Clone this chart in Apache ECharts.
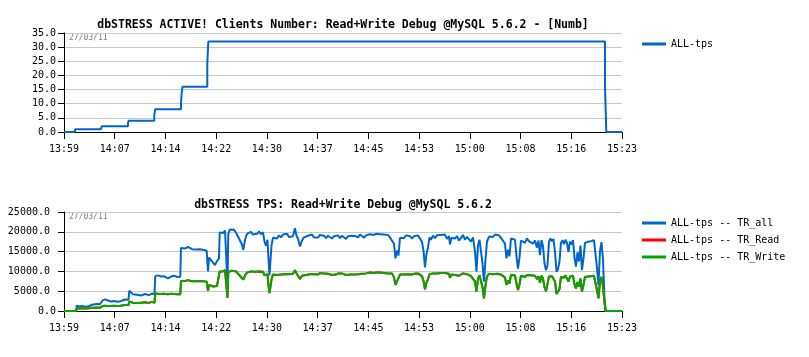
<!DOCTYPE html>
<html>
<head>
<meta charset="utf-8">
<script src="https://cdn.jsdelivr.net/npm/echarts@6/dist/echarts.min.js"></script>
<style>
html,body{margin:0;padding:0;background:#fff;}
#chart{width:809px;height:357px;}
</style>
</head>
<body>
<div id="chart"></div>
<script>
// ---- data ----
const xTickLabels = ['13:59','14:07','14:14','14:22','14:30','14:37','14:45','14:53','15:00','15:08','15:16','15:23'];
const spanMinutes = 84; // minutes covered by the x axis

const topTitle = 'dbSTRESS ACTIVE! Clients Number: Read+Write Debug @MySQL 5.6.2 - [Numb]';
const bottomTitle = 'dbSTRESS TPS: Read+Write Debug @MySQL 5.6.2';
const dateLabel = '27/03/11';

// active clients (minutes from start, value), step line
const clientTime  = [0, 1.66, 5.57, 5.67, 9.63, 9.71, 13.59, 13.72, 17.61, 17.72, 17.84, 21.57, 21.72, 81.44, 81.64, 84];
const clientValue = [0, 1,    1.5,  2,    3,    4,    6,     8,     10,    14,    16,    24,    32,    16,    0,     0];

// TPS (minutes from start)
const tpsTime = [0,1.81,1.91,2.26,2.71,3.16,3.69,3.81,4.37,4.97,5.42,5.83,6.17,6.62,7.07,7.53,7.98,8.50,8.69,9.18,9.71,9.83,10.09,10.39,10.99,11.59,12.19,12.80,13.25,13.62,13.74,14.15,14.60,15.05,15.66,16.11,16.56,17.01,17.51,17.61,17.91,18.29,18.67,19.27,19.87,20.47,21.07,21.48,21.57,21.68,21.83,22.13,22.43,22.73,23.03,23.33,23.44,23.63,23.93,24.24,24.51,24.61,24.73,24.99,25.29,25.59,25.89,26.19,26.49,26.79,26.99,27.25,27.55,27.85,28.15,28.45,28.75,29.05,29.35,29.65,29.96,30.18,30.41,30.63,30.75,30.93,31.08,31.24,31.46,31.76,32.06,32.36,32.67,32.97,33.27,33.57,33.87,34.17,34.47,34.77,35.00,35.22,35.53,35.83,36.13,36.43,36.73,37.03,37.33,37.63,37.93,38.23,38.54,38.84,39.14,39.44,39.74,40.04,40.34,40.64,40.94,41.25,41.55,41.85,42.15,42.45,42.75,43.05,43.35,43.65,43.95,44.26,44.56,44.86,45.16,45.46,45.76,46.06,46.36,46.66,46.97,47.27,47.57,47.87,48.17,48.47,48.77,49.07,49.37,49.67,49.90,50.13,50.35,50.58,50.88,51.18,51.48,51.78,52.08,52.38,52.69,52.99,53.29,53.59,53.89,54.12,54.34,54.57,54.79,55.02,55.24,55.55,55.85,56.15,56.45,56.75,57.05,57.35,57.65,57.95,58.10,58.33,58.56,58.86,59.16,59.46,59.76,60.06,60.36,60.66,60.96,61.27,61.57,61.87,62.09,62.32,62.55,62.77,63.00,63.22,63.45,63.67,63.98,64.28,64.58,64.88,65.18,65.48,65.78,66.08,66.38,66.61,66.84,67.06,67.29,67.59,67.89,68.11,68.34,68.57,68.79,69.09,69.39,69.70,70.00,70.30,70.60,70.90,71.20,71.43,71.65,71.88,72.10,72.33,72.56,72.78,73.01,73.23,73.46,73.68,73.91,74.14,74.36,74.59,74.81,75.04,75.27,75.49,75.72,75.94,76.17,76.39,76.62,76.85,77.07,77.30,77.52,77.75,77.97,78.20,78.43,78.65,78.88,79.10,79.33,79.56,79.78,80.01,80.23,80.46,80.68,80.91,81.14,81.36,81.54,84.00];
const tpsAll = [0,0,1340,1150,1250,1100,1200,1700,1650,1750,1700,2700,2950,2650,2400,2500,2350,2450,2850,2900,2850,5100,4600,4200,4100,3900,4300,4000,4400,4200,8800,9000,8700,8800,8250,8700,8900,8600,8650,15900,15500,15800,16200,15600,15500,15600,15400,15200,12600,10000,13500,13000,12200,11600,12600,13200,19800,20000,19700,20300,19800,6500,19500,20600,20300,20500,19800,18800,17800,16800,15400,18000,19500,19200,20000,19300,19800,19500,20100,19400,19900,17500,16500,18000,14000,9000,8600,16600,18500,19000,18300,19100,18600,19300,18800,19500,18700,19200,18900,20900,19000,18300,16300,17800,18600,18200,19000,18700,19300,18600,19100,18500,19200,18800,19000,18400,19000,18600,18300,18900,18500,19100,18400,19000,18700,18200,18900,18400,19000,18500,18900,18600,19300,18800,18500,19100,19600,19400,19800,19200,19500,19000,19400,18900,19300,18800,19200,18600,19000,17000,13300,15300,14000,18500,19000,18400,19100,18600,18900,18300,18900,18500,19100,18700,17500,15200,11000,14500,16000,18600,18000,19000,18400,19100,18600,19200,18800,19300,18200,18900,16800,18500,18700,18300,18900,17800,18400,19200,18000,18700,19000,17500,18600,15000,9900,16500,18000,17600,12000,7400,13000,17500,18800,19200,18700,19300,18900,19100,18500,18800,17000,13300,15500,13800,18300,18800,18000,14000,10700,13500,17800,18200,17200,18300,17600,18000,17000,17800,16000,17800,14100,17900,16500,12000,10300,11500,17500,18300,17600,18200,15000,9900,10500,12500,17200,17900,16900,18000,17200,14900,17500,16800,17900,13500,11200,14800,12500,16500,10300,13300,17200,16800,17500,17000,17600,17300,17900,18300,11000,6500,15000,17400,13000,3200,0,0];
const tpsWrite = [0,0,680,650,700,650,700,850,850,870,850,1250,1300,1250,1250,1300,1250,1300,1500,1500,1500,2400,2200,2100,2000,2100,2200,2050,2300,2100,4400,4350,4300,4350,4250,4350,4300,4200,4250,7600,7700,7600,7800,7500,7500,7600,7500,7400,6200,5100,6600,6400,6200,5900,6300,6600,10000,10200,10000,10300,10100,3300,9800,10300,10200,10400,10000,9500,8900,8500,7900,9000,9700,9600,10000,9700,9900,9700,10000,9800,9900,9000,8600,9300,7000,4500,4000,8000,9200,9400,9100,9500,9200,9600,9300,9700,9300,9600,9400,10300,9500,9200,8100,8900,9300,9100,9500,9300,9600,9300,9500,9200,9600,9400,9500,9200,9400,9300,9100,9400,9200,9500,9200,9500,9300,9100,9400,9200,9500,9200,9400,9300,9600,9400,9200,9500,9700,9700,9800,9600,9700,9500,9700,9400,9600,9400,9500,9300,9500,8500,6600,7500,7000,9200,9400,9200,9500,9300,9400,9200,9400,9200,9500,9300,8800,7600,5500,7200,8000,9300,9000,9500,9200,9500,9300,9600,9400,9600,9100,9400,8400,9200,9300,9100,9400,8900,9200,9500,9000,9300,9500,8800,9300,7500,4900,8200,9000,8800,6000,3200,6500,8700,9400,9600,9300,9600,9400,9500,9200,9400,8500,6600,7700,6900,9100,9300,9000,7000,5300,6700,8900,9100,8600,9100,8800,9000,8500,8900,8100,8800,7100,8900,8300,6000,5000,4600,8700,9100,8800,9000,7500,4300,4000,5500,8600,8900,8400,9000,8600,7400,8700,8400,8900,6700,5700,7300,6200,8200,4900,6600,8600,8400,8700,8500,8800,8600,8900,9100,5300,3200,7500,8600,6200,2200,0,0];

// ---- chart ----
const FONT = '"DejaVu Sans Mono", "Liberation Mono", monospace';
const tickInterval = spanMinutes / (xTickLabels.length - 1);
const pairs = (xs, ys) => xs.map((x, i) => [x, ys[i]]);

function xAxisFor(gridIndex) {
  return {
    gridIndex, type: 'value', min: 0, max: spanMinutes, interval: tickInterval,
    axisLine: { show: true, onZero: false, lineStyle: { color: '#000', width: 1 } },
    axisTick: { show: true, length: 7, lineStyle: { color: '#000' } },
    splitLine: { show: false },
    axisLabel: {
      margin: 12, fontSize: 10, color: '#000', fontFamily: FONT,
      showMinLabel: true, showMaxLabel: true, hideOverlap: false,
      formatter: v => { const k = Math.round(v / tickInterval); return xTickLabels[k] ?? ''; }
    }
  };
}
function yAxisFor(gridIndex, max, interval, margin, formatter) {
  return {
    gridIndex, type: 'value', min: 0, max, interval,
    axisLine: { show: true, lineStyle: { color: '#000', width: 1 } },
    axisTick: { show: true, length: 6, lineStyle: { color: '#000' } },
    splitLine: { show: true, lineStyle: { color: '#c8c8c8', width: 1 } },
    axisLabel: { margin, fontSize: 10, color: '#000', fontFamily: FONT, formatter }
  };
}
const legendText = { fontSize: 10, color: '#000', fontFamily: FONT, lineHeight: 12 };

const option = {
  animation: false,
  backgroundColor: '#fff',
  title: [
    { text: topTitle, left: 343, top: 19.5, textAlign: 'center', padding: 0,
      textStyle: { fontSize: 11.5, fontWeight: 'bold', color: '#000', fontFamily: FONT } },
    { text: bottomTitle, left: 343, top: 199, textAlign: 'center', padding: 0,
      textStyle: { fontSize: 11.5, fontWeight: 'bold', color: '#000', fontFamily: FONT } }
  ],
  legend: [
    { data: ['ALL-tps'], orient: 'vertical', left: 642, top: 38, padding: 0, icon: 'rect',
      itemWidth: 24, itemHeight: 3, textStyle: legendText },
    { data: ['ALL-tps -- TR_all', 'ALL-tps -- TR_Read', 'ALL-tps -- TR_Write'], orient: 'vertical',
      left: 642, top: 217, padding: 0, itemGap: 5, icon: 'rect', itemWidth: 24, itemHeight: 3, textStyle: legendText }
  ],
  grid: [
    { left: 64, top: 33, width: 558, height: 99 },
    { left: 64, top: 212, width: 558, height: 99 }
  ],
  xAxis: [xAxisFor(0), xAxisFor(1)],
  yAxis: [
    yAxisFor(0, 35, 5, 8, v => v.toFixed(1)),
    yAxisFor(1, 25000, 5000, 8, v => v === 0 ? '0.0' : v.toFixed(1) + '\u00a0')
  ],
  graphic: [
    { type: 'text', left: 69, top: 34, silent: true,
      style: { text: dateLabel, fill: '#808080', font: '8px ' + FONT } },
    { type: 'text', left: 69, top: 213, silent: true,
      style: { text: dateLabel, fill: '#808080', font: '8px ' + FONT } }
  ],
  series: [
    { name: 'ALL-tps', type: 'line', xAxisIndex: 0, yAxisIndex: 0, step: 'end',
      data: pairs(clientTime, clientValue), symbol: 'none', showSymbol: false,
      lineStyle: { color: '#0066cc', width: 2 }, itemStyle: { color: '#0066cc' } },
    { name: 'ALL-tps -- TR_all', type: 'line', xAxisIndex: 1, yAxisIndex: 1,
      data: pairs(tpsTime, tpsAll), symbol: 'none', showSymbol: false,
      lineStyle: { color: '#0066cc', width: 2 }, itemStyle: { color: '#0066cc' } },
    // TR_Read lies exactly beneath TR_Write in the picture (hidden)
    { name: 'ALL-tps -- TR_Read', type: 'line', xAxisIndex: 1, yAxisIndex: 1,
      data: pairs(tpsTime, tpsWrite), symbol: 'none', showSymbol: false,
      lineStyle: { color: '#ff0000', width: 2 }, itemStyle: { color: '#ff0000' } },
    { name: 'ALL-tps -- TR_Write', type: 'line', xAxisIndex: 1, yAxisIndex: 1,
      data: pairs(tpsTime, tpsWrite), symbol: 'none', showSymbol: false,
      lineStyle: { color: '#00aa00', width: 2 }, itemStyle: { color: '#00aa00' } }
  ]
};

const chart = echarts.init(document.getElementById('chart'), null, { renderer: 'canvas' });
chart.setOption(option);
</script>
</body>
</html>
